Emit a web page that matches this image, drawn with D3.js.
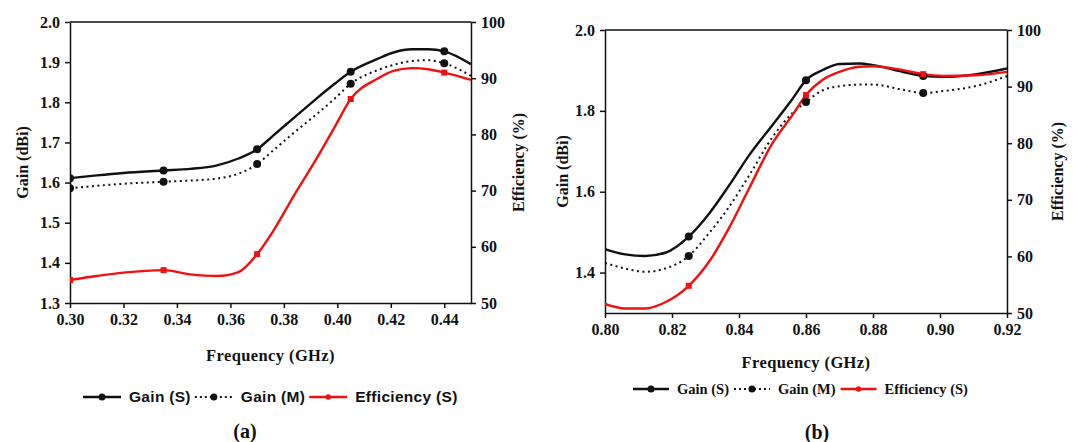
<!DOCTYPE html>
<html><head><meta charset="utf-8">
<script src="https://cdn.jsdelivr.net/npm/d3@7"></script>
<style>
body{margin:0;background:#fff}
svg{display:block}
.axis text{font-family:"Liberation Serif","Times New Roman",Times,"DejaVu Serif",serif;font-weight:bold;font-size:16px;fill:#111}
.axis path,.axis line{stroke:#111;stroke-width:1.5}
.title{font-family:"Liberation Serif","Times New Roman",Times,"DejaVu Serif",serif;font-weight:bold;font-size:16px;fill:#111}
.legsans{font-family:"Liberation Sans",Arial,sans-serif;font-weight:bold;font-size:15.5px;letter-spacing:0.3px;fill:#111}
.legserif{font-family:"Liberation Serif","Times New Roman",Times,"DejaVu Serif",serif;font-weight:bold;font-size:14.5px;fill:#111}
</style></head>
<body><svg id="c" width="1073" height="442"></svg>
<script>
// ---------- Panel (a) data ----------
const freqA   = [0.300,0.310,0.320,0.335,0.345,0.355,0.363,0.370,0.376,0.383,0.392,0.399,0.405,0.415,0.421,0.428,0.434,0.440,0.450];
const gainSA  = [1.611,1.618,1.624,1.630,1.634,1.643,1.660,1.683,1.717,1.757,1.808,1.846,1.876,1.908,1.924,1.932,1.932,1.927,1.895];
const gainMA  = [1.586,1.592,1.597,1.602,1.605,1.610,1.622,1.646,1.680,1.720,1.769,1.809,1.846,1.880,1.893,1.903,1.905,1.897,1.866];
const effSA   = [54.1,54.8,55.4,55.85,55.1,54.8,55.5,58.7,62.8,68.5,75.5,81.3,86.3,89.9,91.3,91.8,91.6,91.0,89.7];
const markerFreqA = [0.300,0.335,0.370,0.405,0.440];
const xTicksA = [0.30,0.32,0.34,0.36,0.38,0.40,0.42,0.44];
const gainTicksA = [1.3,1.4,1.5,1.6,1.7,1.8,1.9,2.0];
const effTicksA = [50,60,70,80,90,100];

// ---------- Panel (b) data ----------
const freqB   = [0.800,0.806,0.812,0.818,0.825,0.831,0.837,0.843,0.850,0.856,0.860,0.865,0.870,0.876,0.880,0.889,0.895,0.901,0.911,0.920];
const gainSB  = [1.458,1.445,1.441,1.449,1.489,1.545,1.615,1.690,1.765,1.830,1.876,1.901,1.916,1.917,1.913,1.896,1.886,1.884,1.891,1.905];
const gainMB  = [1.424,1.410,1.402,1.410,1.441,1.497,1.562,1.640,1.735,1.795,1.822,1.851,1.861,1.865,1.865,1.852,1.844,1.849,1.862,1.886];
const effSB   = [51.6,50.8,50.8,51.9,54.8,59.0,65.0,72.0,80.0,85.0,88.5,91.2,92.6,93.5,93.6,92.9,92.2,91.9,92.0,92.6];
const markerFreqB = [0.825,0.860,0.895];
const xTicksB = [0.80,0.82,0.84,0.86,0.88,0.90,0.92];
const gainTicksB = [1.4,1.6,1.8,2.0];
const effTicksB = [50,60,70,80,90,100];

const seriesNames = ["Gain (S)","Gain (M)","Efficiency (S)"];

const svg = d3.select("#c");

const panels = [
  {id:"a", freq:freqA, gs:gainSA, gm:gainMA, eff:effSA, markers:markerFreqA,
   xDom:[0.30,0.45], xTicks:xTicksA, gTicks:gainTicksA, eTicks:effTicksA,
   L:70, R:471, T:22, B:303, gTitleX:22, eTitleX:518, fTitleY:355,
   legX:83, legY:397, legClass:"legsans", legLen:38, legGap:4,
   capX:245, capY:431},
  {id:"b", freq:freqB, gs:gainSB, gm:gainMB, eff:effSB, markers:markerFreqB,
   xDom:[0.80,0.92], xTicks:xTicksB, gTicks:gainTicksB, eTicks:effTicksB,
   L:605, R:1007, T:30, B:313, gTitleX:562, eTitleX:1057, fTitleY:362,
   legX:633, legY:389, legClass:"legserif", legLen:36, legGap:5,
   capX:817, capY:432}
];

panels.forEach(p => {
  const g = svg.append("g");
  const x = d3.scaleLinear().domain(p.xDom).range([p.L,p.R]);
  const yG = d3.scaleLinear().domain([1.3,2.0]).range([p.B,p.T]);
  const yE = d3.scaleLinear().domain([50,100]).range([p.B,p.T]);

  const clipId = "clip"+p.id;
  g.append("clipPath").attr("id",clipId).append("rect")
    .attr("x",p.L).attr("y",p.T).attr("width",p.R-p.L).attr("height",p.B-p.T);

  g.append("line").attr("x1",p.L).attr("x2",p.R).attr("y1",p.T).attr("y2",p.T)
    .attr("stroke","#111").attr("stroke-width",1.5);

  const ax1 = g.append("g").attr("class","axis").attr("transform",`translate(0,${p.B})`)
    .call(d3.axisBottom(x).tickValues(p.xTicks).tickFormat(d3.format(".2f")).tickSize(5).tickSizeOuter(0).tickPadding(6));
  const ax2 = g.append("g").attr("class","axis").attr("transform",`translate(${p.L},0)`)
    .call(d3.axisLeft(yG).tickValues(p.gTicks).tickFormat(d3.format(".1f")).tickSize(5).tickSizeOuter(0).tickPadding(5));
  const ax3 = g.append("g").attr("class","axis").attr("transform",`translate(${p.R},0)`)
    .call(d3.axisRight(yE).tickValues(p.eTicks).tickFormat(d3.format("d")).tickSize(5).tickSizeOuter(0).tickPadding(5));
  [ax1,ax2,ax3].forEach(a=>a.attr("font-family",null).attr("font-size",null));

  g.append("text").attr("class","title").attr("text-anchor","middle")
    .attr("transform",`translate(${p.gTitleX},${(p.T+p.B)/2}) rotate(-90)`).attr("dy","0.35em").text("Gain (dBi)");
  g.append("text").attr("class","title").attr("text-anchor","middle")
    .attr("transform",`translate(${p.eTitleX},${(p.T+p.B)/2}) rotate(-90)`).attr("dy","0.35em").text("Efficiency (%)");
  g.append("text").attr("class","title").attr("text-anchor","middle")
    .attr("x",(p.L+p.R)/2).attr("y",p.fTitleY).attr("dy","0.35em")
    .style("font-size","16.5px").style("letter-spacing","0.4px").text("Frequency (GHz)");
  g.append("text").attr("class","title").attr("text-anchor","middle")
    .attr("x",p.capX).attr("y",p.capY).attr("dy","0.35em").style("font-size","20px").text(`(${p.id})`);

  const plot = g.append("g").attr("clip-path",`url(#${clipId})`);
  const mk = vals => p.freq.map((f,i)=>({f, v:vals[i]}));
  const lineG = d3.line().x(d=>x(d.f)).y(d=>yG(d.v)).curve(d3.curveMonotoneX);
  const lineE = d3.line().x(d=>x(d.f)).y(d=>yE(d.v)).curve(d3.curveMonotoneX);

  const sGS = mk(p.gs), sGM = mk(p.gm), sEF = mk(p.eff);
  plot.append("path").datum(sGM).attr("d",lineG).attr("fill","none")
    .attr("stroke","#111").attr("stroke-width",2).attr("stroke-dasharray","2,3.5");
  plot.append("path").datum(sGS).attr("d",lineG).attr("fill","none")
    .attr("stroke","#111").attr("stroke-width",2.4);
  plot.append("path").datum(sEF).attr("d",lineE).attr("fill","none")
    .attr("stroke","#f01010").attr("stroke-width",2.4);

  const isM = d => p.markers.some(m=>Math.abs(m-d.f)<1e-6);
  plot.selectAll(".mgs").data(sGS.filter(isM)).join("circle")
    .attr("cx",d=>x(d.f)).attr("cy",d=>yG(d.v)).attr("r",4).attr("fill","#111");
  plot.selectAll(".mgm").data(sGM.filter(isM)).join("circle")
    .attr("cx",d=>x(d.f)).attr("cy",d=>yG(d.v)).attr("r",4).attr("fill","#111");
  plot.selectAll(".mef").data(sEF.filter(isM)).join("rect")
    .attr("x",d=>x(d.f)-3).attr("y",d=>yE(d.v)-3).attr("width",6).attr("height",6).attr("fill","#f01010");

  const leg = g.append("g");
  let cx = p.legX;
  const styles = [
    {stroke:"#111", dash:null, w:2.4},
    {stroke:"#111", dash:"2,3", w:1.8},
    {stroke:"#f01010", dash:null, w:2.4}
  ];
  seriesNames.forEach((name,i)=>{
    const s = styles[i];
    const len = p.legLen;
    leg.append("line").attr("x1",cx).attr("x2",cx+len).attr("y1",p.legY).attr("y2",p.legY)
      .attr("stroke",s.stroke).attr("stroke-width",s.w).attr("stroke-dasharray",s.dash);
    leg.append("circle").attr("cx",cx+len/2).attr("cy",p.legY).attr("r",i===2?2.8:3.5).attr("fill",s.stroke);
    const t = leg.append("text").attr("class",p.legClass).attr("x",cx+len+8).attr("y",p.legY).attr("dy","0.35em").text(name);
    cx += len + 8 + t.node().getComputedTextLength() + p.legGap;
  });
});
</script>
</body></html>
